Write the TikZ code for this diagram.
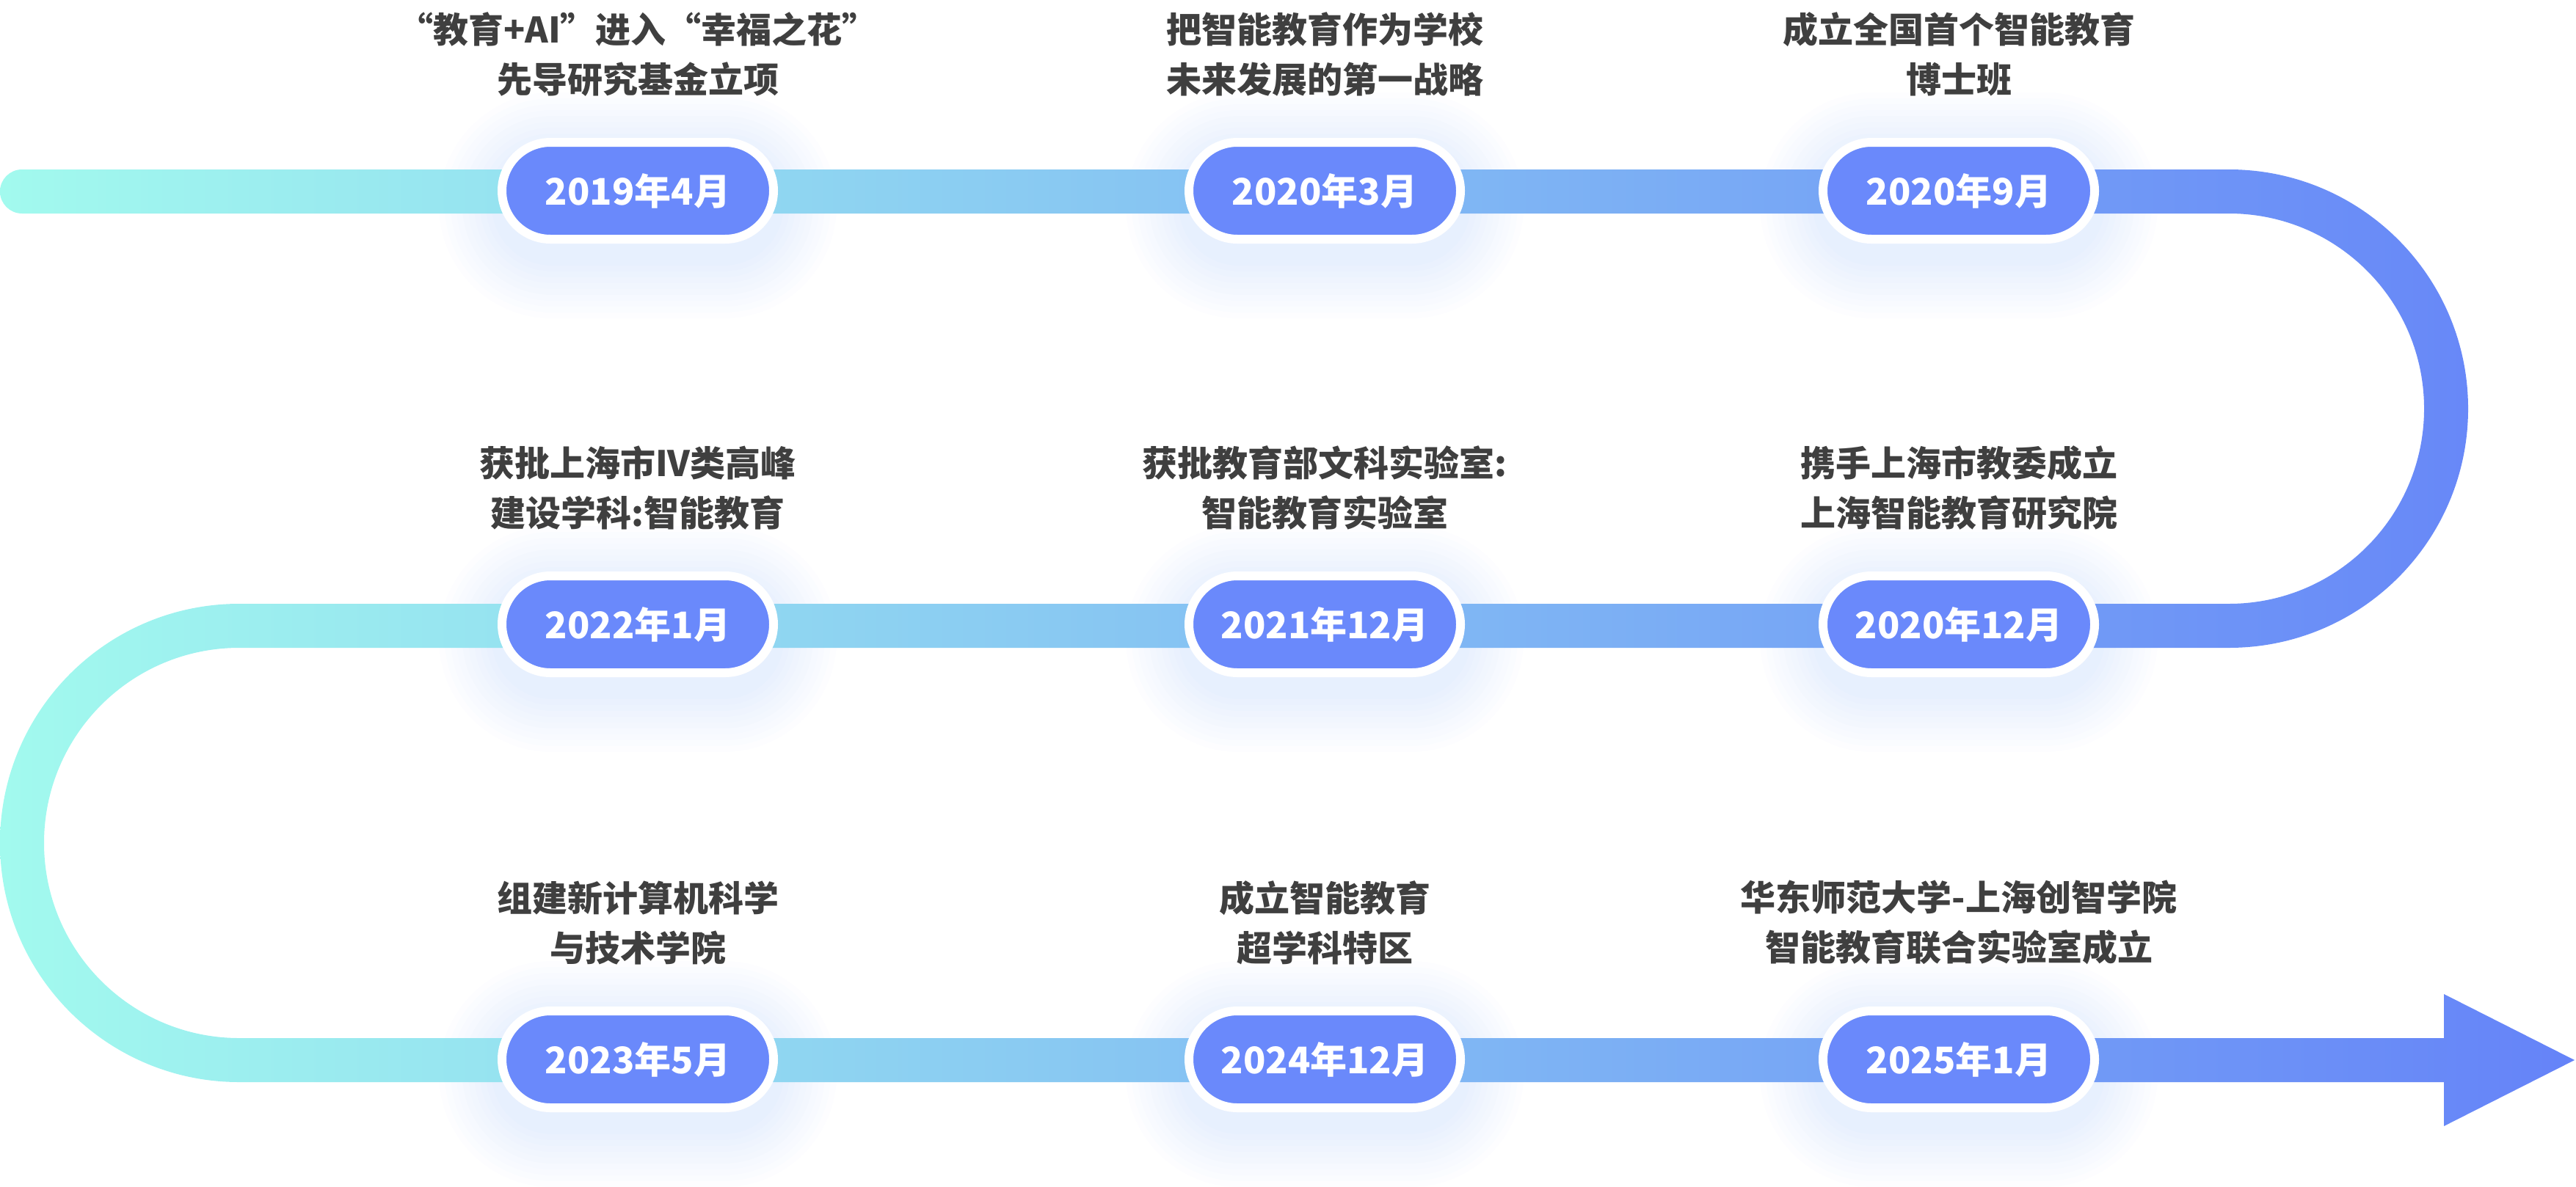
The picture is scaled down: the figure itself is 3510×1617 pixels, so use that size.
\documentclass[tikz,border=0pt]{standalone}
\usepackage{fontspec}
\setmainfont{Noto Sans CJK SC}
\usepackage{tikz}
\usetikzlibrary{positioning}
\usetikzlibrary{backgrounds}

\definecolor{pillblue}{HTML}{6A89FB}
\definecolor{textgray}{HTML}{3F3F3F}
\definecolor{snakeL}{HTML}{A2FAEE}
\definecolor{snakeR}{HTML}{6583F8}
\definecolor{haloblue}{HTML}{377DF5}

\begin{document}
\begin{tikzpicture}[x=0.25pt, y=0.25pt,
    date/.style={fill=pillblue, draw=white, line width=3pt, rounded corners=16.5pt,
      minimum width=92.5pt, minimum height=33pt, inner sep=0pt,
      text=white, font=\fontsize{12.5}{15}\selectfont\bfseries},
    event/.style={align=center, inner sep=0pt, text=textgray,
      font=\fontsize{12}{17}\selectfont\bfseries},
    glow/.style={fill=haloblue, fill opacity=0.011}]
      \useasboundingbox (0,0) rectangle (3510,-1617);

      \node[date] (d201904) at (869, -260) {2019年4月};
      \node[date] (d202003) at (1805, -260) {2020年3月};
      \node[date] (d202009) at (2669, -260) {2020年9月};

      \node[date] (d202201) at (869, -851) {2022年1月};
      \node[date] (d202112) at (1805, -851) {2021年12月};
      \node[date] (d202012) at (2669, -851) {2020年12月};

      \node[date] (d202305) at (869, -1444) {2023年5月};
      \node[date] (d202412) at (1805, -1444) {2024年12月};
      \node[date] (d202501) at (2669, -1444) {2025年1月};

      \node[event, above=14pt of d201904] (t201904) {“教育+AI”进入“幸福之花”\\先导研究基金立项};
      \node[event, above=14pt of d202003] (t202003) {把智能教育作为学校\\未来发展的第一战略};
      \node[event, above=14pt of d202009] (t202009) {成立全国首个智能教育\\博士班};

      \node[event, above=14pt of d202201] (t202201) {获批上海市IV类高峰\\建设学科:智能教育};
      \node[event, above=14pt of d202112] (t202112) {获批教育部文科实验室:\\智能教育实验室};
      \node[event, above=14pt of d202012] (t202012) {携手上海市教委成立\\上海智能教育研究院};

      \node[event, above=14pt of d202305] (t202305) {组建新计算机科学\\与技术学院};
      \node[event, above=14pt of d202412] (t202412) {成立智能教育\\超学科特区};
      \node[event, above=14pt of d202501] (t202501) {华东师范大学-上海创智学院\\智能教育联合实验室成立};

      \begin{scope}[on background layer]
        % soft halo under each date
        \foreach \p in {d201904,d202003,d202009,d202201,d202112,d202012,d202305,d202412,d202501}
          \foreach \r in {8,16,...,80}
            \fill[glow, rounded corners={(74+\r)/4*1pt}]
              ([shift={({-191-\r},{-94-\r})}]\p.center) rectangle ([shift={({191+\r},{54+\r})}]\p.center);

        % the winding band with its arrow
        \shade[left color=snakeL, right color=snakeR]
          (30,-231) -- (3037,-231) arc[start angle=90, end angle=-90, radius=326]
          -- (326,-883) arc[start angle=90, end angle=270, radius=266]
          -- (3330,-1415) -- (3330,-1355) -- (3508,-1445) -- (3330,-1535) -- (3330,-1475)
          -- (326,-1475) arc[start angle=270, end angle=90, radius=326]
          -- (3037,-823) arc[start angle=-90, end angle=90, radius=266]
          -- (30,-291) arc[start angle=270, end angle=90, radius=30] -- cycle;
      \end{scope}
    \end{tikzpicture}
\end{document}
